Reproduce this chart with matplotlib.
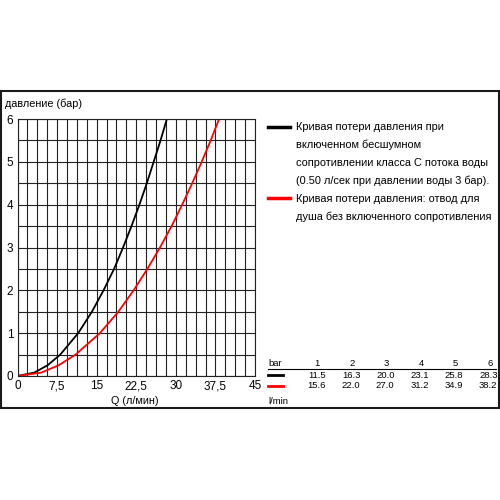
import matplotlib.pyplot as plt
from matplotlib.lines import Line2D
from matplotlib.patches import Rectangle
import numpy as np

plt.rcParams['font.family'] = ['Liberation Sans', 'DejaVu Sans']

# curves (Q in l/min, pressure in bar)
black_q = [0, 3.2, 5.7, 8.1, 11.5, 14.1, 16.3, 18.3, 20.0, 21.6, 23.1, 24.5, 25.8, 27.1, 28.3]
black_p = [0, 0.08, 0.25, 0.5, 1, 1.5, 2, 2.5, 3, 3.5, 4, 4.5, 5, 5.5, 6]
red_q = [0, 4.5, 7.8, 11.0, 15.6, 19.1, 22.0, 24.6, 27.0, 29.2, 31.2, 33.1, 34.9, 36.6, 38.2]
red_p = [0, 0.08, 0.25, 0.5, 1, 1.5, 2, 2.5, 3, 3.5, 4, 4.5, 5, 5.5, 6]

# table at bottom right
bar_levels = [1, 2, 3, 4, 5, 6]
black_flow = ['11.5', '16.3', '20.0', '23.1', '25.8', '28.3']
red_flow = ['15.6', '22.0', '27.0', '31.2', '34.9', '38.2']

x_ticks = [0, 7.5, 15, 22.5, 30, 37.5, 45]
x_tick_labels = ['0', '7,5', '15', '22,5', '30', '37,5', '45']
y_ticks = [0, 1, 2, 3, 4, 5, 6]

legend_black = ['Кривая потери давления при',
                'включенном бесшумном',
                'сопротивлении класса С потока воды',
                '(0.50 л/сек при давлении воды 3 бар).']
legend_red = ['Кривая потери давления: отвод для',
              'душа без включенного сопротивления']

W = H = 500.0
fig = plt.figure(figsize=(5, 5), dpi=100)
fig.patch.set_facecolor('white')

def fx(px):
    return px / W

def fy(py):
    return 1 - py / H

# outer frame
fig.patches.append(Rectangle((fx(1), fy(408)), fx(498), (408 - 91) / H,
                             transform=fig.transFigure, fill=False,
                             edgecolor='#1a1a1a', linewidth=1.5))

ax = fig.add_axes([fx(17.5), fy(376), (255 - 17.5) / W, (376 - 119) / H])
ax.plot(black_q, black_p, color='black', lw=1.3, solid_capstyle='round')
ax.plot(red_q, red_p, color='red', lw=1.3, solid_capstyle='round')
ax.set_xlim(0, 45)
ax.set_ylim(0, 6)
ax.set_xticks(np.arange(0, 45.01, 1.875), minor=True)
ax.set_yticks(np.arange(0, 6.01, 0.5), minor=True)
ax.grid(which='both', color='#222222', lw=0.8)
ax.set_axisbelow(True)
ax.set_xticks(x_ticks)
ax.set_xticklabels(x_tick_labels)
ax.set_yticks(y_ticks)
ax.tick_params(which='both', length=0, labelsize=8.5, pad=3)
for s in ax.spines.values():
    s.set_linewidth(0.8)
    s.set_color('#222222')

fig.text(fx(5), fy(104), 'давление (бар)', fontsize=7.8, va='center', ha='left')
fig.text(fx(135), fy(401), 'Q (л/мин)', fontsize=7.8, va='center', ha='center')

# legend
def seg(x0, x1, y, color, lw=2.5):
    fig.lines.append(Line2D([fx(x0), fx(x1)], [fy(y), fy(y)], color=color, lw=lw,
                            transform=fig.transFigure))

seg(268, 290, 127, 'black')
for i, line in enumerate(legend_black):
    fig.text(fx(296), fy(127 + 18 * i), line, fontsize=7.9, va='center', ha='left')
seg(268, 290, 198, 'red')
for i, line in enumerate(legend_red):
    fig.text(fx(296), fy(199 + 18 * i), line, fontsize=7.9, va='center', ha='left')

# table
fig.text(fx(268), fy(363), 'bar', fontsize=6.8, va='center', ha='left')
fig.lines.append(Line2D([fx(268), fx(496)], [fy(369), fy(369)], color='black', lw=0.8,
                        transform=fig.transFigure))
for i, b in enumerate(bar_levels):
    fig.text(fx(320 + 34.6 * i), fy(363), str(b), fontsize=6.8, va='center', ha='right')
    fig.text(fx(326 + 34.3 * i), fy(375), black_flow[i], fontsize=6.8, va='center', ha='right')
    fig.text(fx(326 + 34.3 * i), fy(386), red_flow[i], fontsize=6.8, va='center', ha='right')
seg(268, 283, 375, 'black', lw=2)
seg(268, 283, 386, 'red', lw=2)
fig.text(fx(268), fy(401), 'l/min', fontsize=6.8, va='center', ha='left')

fig.savefig('out.png', dpi=100, facecolor='white')
